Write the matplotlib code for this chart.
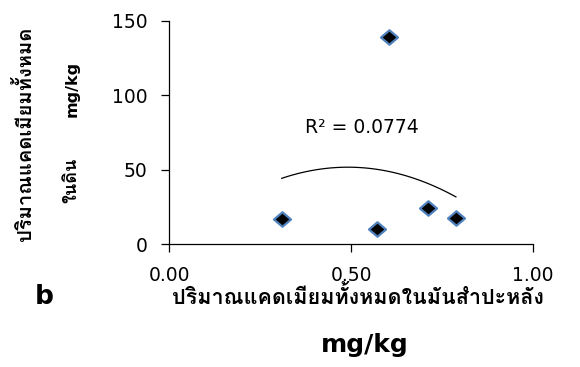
import numpy as np
import matplotlib
matplotlib.use("Agg")
import matplotlib.pyplot as plt
from matplotlib import font_manager
from matplotlib.path import Path

# Cadmium in cassava (x) vs cadmium in soil (y), mg/kg
cd_cassava = [0.309, 0.572, 0.605, 0.712, 0.788]
cd_soil = [16.8, 9.9, 139.0, 24.0, 17.3]
# polynomial (order 2) trend line coefficients, highest power first
trend_coef = [-225.9, 221.8, -2.86]
r2_label = "R² = 0.0774"
x_ticks = [0.0, 0.5, 1.0]
y_ticks = [0, 50, 100, 150]
x_title = "ปริมาณแคดเมียมทั้งหมดในมันสำปะหลัง"
y_title_1 = "ปริมาณแคดเมียมทั้งหมด"
y_title_2 = "ในดิน"
unit = "mg/kg"
panel = "b"

installed = {f.name for f in font_manager.fontManager.ttflist}
thai_font = next((p for p in ["Loma", "Noto Sans Thai Looped", "Sarabun"]
                  if p in installed), "DejaVu Sans")
thai_fam = [thai_font, "DejaVu Sans"]
plt.rcParams["font.family"] = ["DejaVu Sans"]

fig = plt.figure(figsize=(5.8, 3.67), dpi=100)
ax = fig.add_axes([0.292, 0.335, 0.627, 0.609])

# flattened diamond marker
diamond = Path([(-1, 0), (0, 0.85), (1, 0), (0, -0.85), (-1, 0)],
               [Path.MOVETO, Path.LINETO, Path.LINETO, Path.LINETO, Path.CLOSEPOLY])

xs = np.linspace(min(cd_cassava), max(cd_cassava), 100)
ax.plot(xs, np.polyval(trend_coef, xs), color="black", lw=0.9, zorder=2)

ax.scatter(cd_cassava, cd_soil, marker=diamond, s=150, facecolor="black",
           edgecolor="#4F81BD", linewidth=1.6, zorder=3)

ax.set_xlim(0, 1)
ax.set_ylim(0, 150)
ax.set_xticks(x_ticks)
ax.set_xticklabels([f"{v:.2f}" for v in x_ticks])
ax.set_yticks(y_ticks)
for s in ["top", "right"]:
    ax.spines[s].set_visible(False)
for s in ["left", "bottom"]:
    ax.spines[s].set_linewidth(0.9)
ax.tick_params(axis="both", direction="out", length=6, width=0.9,
               labelsize=13.5, colors="black")
ax.tick_params(axis="y", pad=10)
ax.tick_params(axis="x", pad=10)

ax.text(0.53, 78, r2_label, fontsize=13.5, ha="center", va="center")

# axis titles
fig.text(358 / 580, 1 - 297 / 367, x_title, fontsize=15.5, fontweight="bold",
         ha="center", va="center", family=thai_fam)
fig.text(365 / 580, 1 - 345 / 367, unit, fontsize=18, fontweight="bold",
         ha="center", va="center")
fig.text(25 / 580, 1 - 134 / 367, y_title_1, fontsize=14.5, fontweight="bold",
         rotation=90, ha="center", va="center", family=thai_fam)
fig.text(71 / 580, 1 - 180 / 367, y_title_2, fontsize=13, fontweight="bold",
         rotation=90, ha="center", va="center", family=thai_fam)
fig.text(72 / 580, 1 - 89 / 367, unit, fontsize=11.5, fontweight="bold",
         rotation=90, ha="center", va="center")

# panel letter
fig.text(44 / 580, 1 - 297 / 367, panel, fontsize=19, fontweight="bold",
         ha="center", va="center")

fig.savefig("out.png", dpi=100)
